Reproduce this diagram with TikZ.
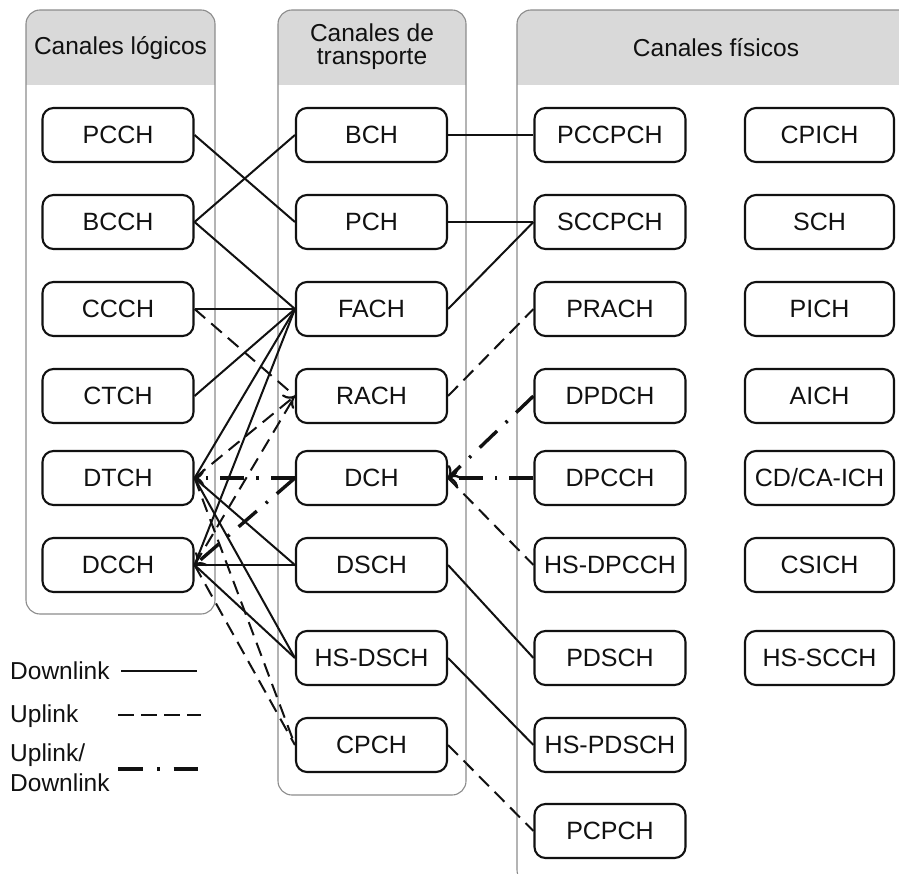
\documentclass[tikz,border=0pt]{standalone}
\usepackage{fontspec}
\setmainfont{Liberation Sans}
\usetikzlibrary{arrows.meta}
\definecolor{hdrgray}{HTML}{D9D9D9}
\definecolor{contgray}{HTML}{8C8C8C}
\definecolor{ink}{HTML}{111111}
\begin{document}
\begin{tikzpicture}[x=1pt,y=-1pt,
  ch/.style={draw=ink, line width=2.1pt, rounded corners=11pt, minimum width=151pt,
    minimum height=54pt, inner sep=0pt, fill=white, text=ink, font=\fontsize{25}{28}\selectfont},
  cont/.style={draw=contgray, line width=1.1pt, rounded corners=14pt},
  hdrtext/.style={text=ink, font=\fontsize{24.5}{23}\selectfont, align=center, inner sep=0pt},
  legtext/.style={text=ink, font=\fontsize{24.5}{30}\selectfont, align=left, inner sep=0pt, anchor=west},
  dl/.style={draw=ink, line width=2pt},
  ul/.style={draw=ink, line width=2pt, dash pattern=on 14pt off 8pt},
  udl/.style={draw=ink, line width=3.4pt, dash pattern=on 24pt off 12pt on 2.5pt off 12pt},
  tip/.style={-{To[length=10pt,width=18pt,line width=2.2pt]}}
]
\useasboundingbox (0,0) rectangle (899,874);
\clip (0,0) rectangle (899,874);
\fill[white] (0,0) rectangle (899,874);

% containers
\begin{scope}
  \clip[rounded corners=14pt] (26,10) rectangle (215,614);
  \fill[hdrgray] (26,10) rectangle (215,85);
\end{scope}
\draw[cont] (26,10) rectangle (215,614);
\begin{scope}
  \clip[rounded corners=14pt] (278,10) rectangle (466,795);
  \fill[hdrgray] (278,10) rectangle (466,85);
\end{scope}
\draw[cont] (278,10) rectangle (466,795);
\begin{scope}
  \clip[rounded corners=14pt] (517,10) rectangle (935,884);
  \fill[hdrgray] (517,10) rectangle (935,85);
\end{scope}
\draw[cont] (517,10) rectangle (935,884);

\node[hdrtext] (hlog) at (120.5,48) {Canales lógicos};
\node[hdrtext] (htra) at (372,47) {Canales de\\transporte};
\node[hdrtext] (hfis) at (716,48) {Canales físicos};

% logical channels
\node[ch] (PCCH) at (118,135) {PCCH};
\node[ch] (BCCH) at (118,222) {BCCH};
\node[ch] (CCCH) at (118,309) {CCCH};
\node[ch] (CTCH) at (118,396) {CTCH};
\node[ch] (DTCH) at (118,478) {DTCH};
\node[ch] (DCCH) at (118,565) {DCCH};

% transport channels
\node[ch] (BCH) at (371.5,135) {BCH};
\node[ch] (PCH) at (371.5,222) {PCH};
\node[ch] (FACH) at (371.5,309) {FACH};
\node[ch] (RACH) at (371.5,396) {RACH};
\node[ch] (DCH) at (371.5,478) {DCH};
\node[ch] (DSCH) at (371.5,565) {DSCH};
\node[ch] (HSDSCH) at (371.5,658) {HS-DSCH};
\node[ch] (CPCH) at (371.5,745) {CPCH};

% physical channels
\node[ch] (PCCPCH) at (610,135) {PCCPCH};
\node[ch] (SCCPCH) at (610,222) {SCCPCH};
\node[ch] (PRACH) at (610,309) {PRACH};
\node[ch] (DPDCH) at (610,396) {DPDCH};
\node[ch] (DPCCH) at (610,478) {DPCCH};
\node[ch] (HSDPCCH) at (610,565) {HS-DPCCH};
\node[ch] (PDSCH) at (610,658) {PDSCH};
\node[ch] (HSPDSCH) at (610,745) {HS-PDSCH};
\node[ch] (PCPCH) at (610,831) {PCPCH};

\node[ch, minimum width=149pt] (CPICH) at (819.5,135) {CPICH};
\node[ch, minimum width=149pt] (SCH) at (819.5,222) {SCH};
\node[ch, minimum width=149pt] (PICH) at (819.5,309) {PICH};
\node[ch, minimum width=149pt] (AICH) at (819.5,396) {AICH};
\node[ch, minimum width=149pt] (CDCAICH) at (819.5,478) {CD/CA-ICH};
\node[ch, minimum width=149pt] (CSICH) at (819.5,565) {CSICH};
\node[ch, minimum width=149pt] (HSSCCH) at (819.5,658) {HS-SCCH};

% logical <-> transport
\draw[dl] (PCCH.east) -- (PCH.west);
\draw[dl] (BCCH.east) -- (BCH.west);
\draw[dl] (BCCH.east) -- (FACH.west);
\draw[dl] (CCCH.east) -- (FACH.west);
\draw[ul] (CCCH.east) -- (RACH.west);
\draw[dl] (CTCH.east) -- (FACH.west);
\draw[dl] (DTCH.east) -- (FACH.west);
\draw[ul,tip] (DTCH.east) -- (RACH.west);
\draw[udl,tip] (DCH.west) -- (DTCH.east);
\draw[dl] (DTCH.east) -- (DSCH.west);
\draw[dl] (DTCH.east) -- (HSDSCH.west);
\draw[ul] (DTCH.east) -- (CPCH.west);
\draw[dl] (DCCH.east) -- (FACH.west);
\draw[ul] (DCCH.east) -- (RACH.west);
\draw[udl,tip] (DCH.west) -- (DCCH.east);
\draw[dl] (DCCH.east) -- (DSCH.west);
\draw[dl] (DCCH.east) -- (HSDSCH.west);
\draw[ul] (DCCH.east) -- (CPCH.west);

% transport <-> physical
\draw[dl] (BCH.east) -- (PCCPCH.west);
\draw[dl] (PCH.east) -- (SCCPCH.west);
\draw[dl] (FACH.east) -- (SCCPCH.west);
\draw[ul] (RACH.east) -- (PRACH.west);
\draw[udl,tip] (DPDCH.west) -- (DCH.east);
\draw[udl,tip] (DPCCH.west) -- (DCH.east);
\draw[ul] (DCH.east) -- (HSDPCCH.west);
\draw[dl] (DSCH.east) -- (PDSCH.west);
\draw[dl] (HSDSCH.east) -- (HSPDSCH.west);
\draw[ul] (CPCH.east) -- (PCPCH.west);

% legend
\node[legtext] (ldl) at (10,671) {Downlink};
\coordinate (ldla) at (121,671);
\coordinate (ldlb) at (197,671);
\draw[dl] (ldla) -- (ldlb);
\node[legtext] (lul) at (10,716) {Uplink};
\coordinate (lula) at (118,715);
\coordinate (lulb) at (201,715);
\draw[ul, dash pattern=on 16pt off 7pt] (lula) -- (lulb);
\node[legtext] (ludl) at (10,768) {Uplink/\\Downlink};
\coordinate (ludla) at (118,769);
\coordinate (ludlb) at (198,769);
\draw[udl, dash pattern=on 25pt off 14pt on 2.5pt off 14pt] (ludla) -- (ludlb);
\end{tikzpicture}
\end{document}
